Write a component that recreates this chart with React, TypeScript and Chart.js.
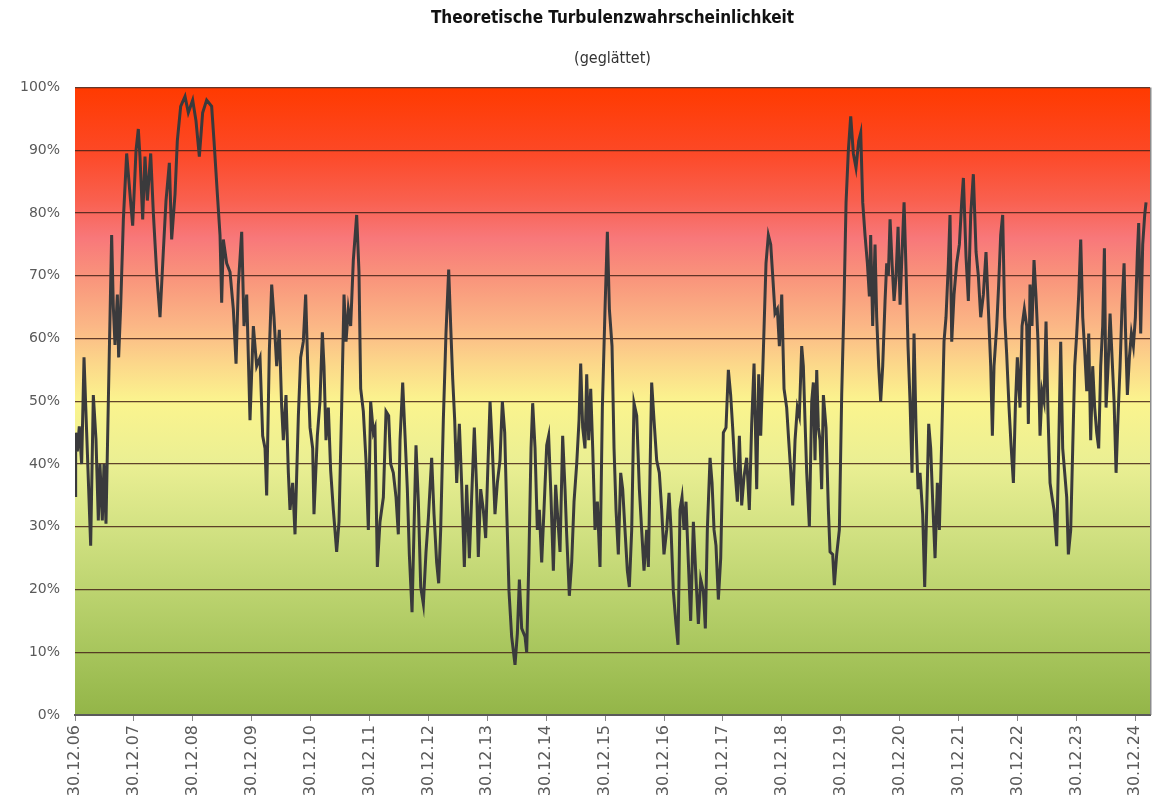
import React, { useEffect, useRef } from "react";
import { Chart, registerables } from "chart.js";

Chart.register(...registerables);

// Years since 30.12.2006 (x) and smoothed turbulence probability in % (y)
const yearsSinceStart: number[] = [
  0.000, 0.011, 0.040, 0.073, 0.113, 0.153, 0.198, 0.232, 0.266, 0.311, 0.356, 0.396, 0.424, 0.464, 0.492, 0.526,
  0.566, 0.622, 0.651, 0.679, 0.719, 0.741, 0.775, 0.821, 0.877, 0.934, 0.979, 1.036, 1.075, 1.103, 1.149, 1.188,
  1.228, 1.285, 1.330, 1.386, 1.443, 1.500, 1.545, 1.602, 1.641, 1.698, 1.737, 1.794, 1.868, 1.924, 1.998, 2.054,
  2.111, 2.167, 2.235, 2.320, 2.360, 2.417, 2.462, 2.490, 2.518, 2.575, 2.632, 2.688, 2.734, 2.773, 2.830, 2.869,
  2.915, 2.971, 3.028, 3.084,
  3.141, 3.186, 3.226, 3.254, 3.299, 3.339, 3.378, 3.424, 3.469, 3.509, 3.537, 3.582, 3.622, 3.650, 3.695, 3.735,
  3.792, 3.831, 3.876, 3.916, 3.950, 3.990, 4.035, 4.057, 4.114, 4.159, 4.199, 4.227, 4.261, 4.301, 4.340, 4.386,
  4.442, 4.482, 4.527, 4.567, 4.601, 4.640, 4.680, 4.725, 4.782, 4.821, 4.850, 4.895, 4.940, 4.980, 5.019, 5.065,
  5.093, 5.133, 5.178, 5.235, 5.280, 5.325, 5.359, 5.404, 5.450, 5.489, 5.518, 5.563, 5.603, 5.642, 5.676, 5.722,
  5.755, 5.789, 5.829, 5.869, 5.914, 5.959, 5.999, 6.055,
  6.095, 6.140, 6.174, 6.208, 6.253, 6.298, 6.344, 6.378, 6.412, 6.446, 6.480, 6.525, 6.565, 6.610, 6.649, 6.695,
  6.734, 6.779, 6.819, 6.847, 6.887, 6.932, 6.972, 7.006, 7.046, 7.085, 7.130, 7.170, 7.215, 7.255, 7.295, 7.329,
  7.368, 7.413, 7.470, 7.510, 7.544, 7.583, 7.640, 7.668, 7.708, 7.742, 7.770, 7.810, 7.849, 7.883, 7.923, 7.962,
  8.008, 8.041, 8.081, 8.121, 8.160, 8.200, 8.234, 8.279, 8.319, 8.347, 8.392, 8.432, 8.472, 8.517, 8.557, 8.585,
  8.619, 8.658, 8.687, 8.721, 8.755, 8.789, 8.828, 8.868, 8.913, 8.953, 8.998, 9.038, 9.072,
  9.117, 9.151, 9.185, 9.224, 9.264, 9.298, 9.337, 9.377, 9.411, 9.451, 9.490, 9.536, 9.581, 9.620, 9.660, 9.705,
  9.734, 9.762, 9.790, 9.830, 9.875, 9.920, 9.960, 9.999, 10.045, 10.085, 10.119, 10.158, 10.203, 10.237, 10.271, 10.305,
  10.339, 10.373, 10.413, 10.452, 10.498, 10.543, 10.583, 10.622, 10.668, 10.701, 10.735, 10.781, 10.815, 10.849, 10.882, 10.922,
  10.962, 11.007, 11.052, 11.092, 11.131, 11.165, 11.205, 11.245, 11.279, 11.318, 11.358, 11.403, 11.448, 11.488, 11.528, 11.573,
  11.607, 11.641, 11.686, 11.731, 11.771, 11.811, 11.845, 11.884, 11.924, 11.958, 11.998, 12.037, 12.082, 12.116,
  12.150, 12.184, 12.224, 12.263, 12.297, 12.337, 12.365, 12.393, 12.422, 12.467, 12.507, 12.535, 12.563, 12.592, 12.620, 12.648,
  12.676, 12.705, 12.750, 12.790, 12.818, 12.863, 12.891, 12.931, 12.976, 13.016, 13.056, 13.090, 13.129, 13.169, 13.214, 13.259,
  13.305, 13.339, 13.373, 13.412, 13.452, 13.486, 13.508, 13.542, 13.582, 13.610, 13.644, 13.678, 13.712, 13.752, 13.780, 13.808,
  13.837, 13.871, 13.905, 13.939, 13.973, 14.007, 14.041, 14.075, 14.108, 14.142, 14.176, 14.210, 14.244, 14.278, 14.312, 14.346,
  14.391, 14.425, 14.459, 14.493, 14.527, 14.561, 14.601, 14.640, 14.674, 14.714, 14.753, 14.787, 14.827, 14.855, 14.884, 14.923,
  14.968, 15.014, 15.053, 15.082, 15.127, 15.166, 15.206, 15.251,
  15.297, 15.336, 15.376, 15.421, 15.466, 15.506, 15.546, 15.574, 15.602, 15.648, 15.681, 15.715, 15.749, 15.783, 15.817, 15.857,
  15.891, 15.931, 15.964, 15.998, 16.044, 16.078, 16.117, 16.157, 16.185, 16.213, 16.247, 16.281, 16.315, 16.349, 16.383, 16.417,
  16.451, 16.485, 16.519, 16.553, 16.587, 16.621, 16.666, 16.700, 16.734, 16.768, 16.802, 16.836, 16.864, 16.904, 16.938, 16.972,
  17.006, 17.040, 17.074, 17.108, 17.142, 17.176, 17.210, 17.243, 17.277, 17.311, 17.345, 17.379, 17.413, 17.447, 17.476, 17.504,
  17.538, 17.572, 17.606, 17.640, 17.674, 17.708, 17.742, 17.776, 17.810, 17.832, 17.866, 17.900, 17.934, 17.968, 18.002, 18.036,
  18.058, 18.092, 18.126, 18.160, 18.183,
];

const turbulence: number[] = [
  35, 45, 42, 46, 40, 57, 45, 36, 27, 51, 44, 31, 40, 31, 40, 30.5,
  50, 76.5, 65, 59, 67, 57, 65, 79, 89.5, 83, 78, 90, 93.4, 89, 79, 89,
  82, 89.5, 80, 70.6, 63.4, 74, 82, 88, 75.8, 83, 91.5, 97, 98.6, 96, 98, 94.7,
  89, 96, 98, 97, 91.5, 83, 76.5, 65.7, 75.8, 72, 70.6, 64.7, 56, 68.6, 77, 62,
  67, 47, 62, 55.6,
  57, 44.5, 42.5, 35, 58, 68.6, 63.4, 55.6, 61.4, 49, 43.8, 51, 38.6, 32.7, 37, 28.8,
  47.7, 57, 59.5, 67, 56, 45.8, 42.5, 32, 44.5, 50, 61, 55.6, 43.8, 49, 39, 32.7,
  26, 30.8, 49, 67, 59.5, 64.7, 62, 72.5, 79.7, 70.6, 52, 48.4, 40.6, 29.5, 50, 45,
  45.8, 23.6, 30.8, 34.7, 48.4, 47.7, 40, 38.6, 34.7, 28.8, 43.8, 53, 44.5, 36, 25.6, 16.4,
  29.5, 43, 34, 20.4, 17.7, 26, 31.4, 41,
  32, 24.3, 21, 29.5, 47, 60.8, 71, 62, 53.6, 47, 37, 46.4, 36.7, 23.6, 36.7, 25,
  34.7, 45.8, 36, 25.2, 36, 32.7, 28.2, 38.6, 50, 42.5, 32, 37, 40.6, 50, 45, 32.7,
  19.7, 12.5, 8, 13, 21.6, 13.8, 12.5, 10, 26, 42.5, 49.7, 42.5, 29.5, 32.7, 24.3, 32.7,
  43, 44.5, 34.7, 23, 36.7, 30.8, 26, 44.5, 36, 28.8, 19, 24.3, 34, 40, 47, 56,
  45.8, 42.5, 54.3, 43.8, 52, 42.5, 29.5, 34, 23.6, 49, 64.7, 77, 64.7,
  58.8, 42.5, 32.7, 25.6, 38.6, 36, 29.5, 23, 20.4, 29.5, 49.7, 47.7, 36, 29.5, 23, 29.5,
  23.6, 38.6, 53, 47, 40.6, 38.6, 32.7, 25.6, 29.5, 35.4, 29.5, 19.7, 14.5, 11.2, 32.7, 34.7,
  29.5, 34, 24.3, 15, 30.8, 21.6, 14.5, 21.6, 19.7, 13.8, 29.5, 41, 37, 29.5, 27, 18.4,
  25, 45, 45.8, 55, 51, 45.8, 39, 34, 44.5, 33.4, 38, 41, 32.7, 46.4, 56, 36,
  54.3, 44.5, 58, 72, 76.5, 75, 70, 64, 64.7, 58.8, 67, 52, 49, 43.8,
  39, 33.4, 43.8, 49, 47.7, 58.8, 55.6, 47, 38.6, 30, 50, 53, 40.6, 55, 45.8, 43.8,
  36, 51, 45.8, 32.7, 26, 25.6, 20.7, 25.6, 29.5, 51, 66, 81.7, 90, 95.4, 89.5, 87.2,
  91.5, 92.8, 81.7, 76.5, 72, 66.7, 76.5, 62, 75, 63.4, 55.6, 50, 55.6, 66, 72, 70,
  79, 72, 66, 70, 77.8, 65.4, 73.8, 81.7, 71, 58.8, 50, 38.6, 60.8, 45.8, 36, 38.6,
  32, 20.4, 32.7, 46.4, 42.5, 34, 25, 37, 29.5, 43.8, 59.5, 63.4, 72, 79.7, 59.5, 67,
  72, 75, 81.7, 85.6, 73, 66, 79.7, 86.2,
  73.8, 70, 63.4, 67, 73.8, 64.7, 55.6, 44.5, 55.6, 62, 68.6, 76.5, 79.7, 63.4, 57.5, 49,
  43, 37, 49, 57, 49, 62, 64.7, 62, 46.4, 68.6, 62, 72.5, 66.7, 59.5, 44.5, 51.6,
  50, 62.7, 47.7, 37, 34.7, 32.7, 26.9, 42.5, 59.5, 42.5, 38.6, 34.7, 25.6, 29.5, 42.5, 55.6,
  60.8, 67, 75.8, 63.4, 58, 51.6, 60.8, 43.8, 55.6, 49, 45, 42.5, 55.6, 62, 74.4, 49,
  55.6, 64, 57, 50, 38.6, 47.7, 55.6, 65.4, 72, 62, 51, 57, 60.8, 58.8, 63.4, 73.8,
  78.4, 60.8, 75, 79.7, 81.7,
];

const tickLabels: string[] = [
  "30.12.06", "30.12.07", "30.12.08", "30.12.09", "30.12.10", "30.12.11", "30.12.12",
  "30.12.13", "30.12.14", "30.12.15", "30.12.16", "30.12.17", "30.12.18", "30.12.19",
  "30.12.20", "30.12.21", "30.12.22", "30.12.23", "30.12.24",
];

const titleText = "Theoretische Turbulenzwahrscheinlichkeit";
const subtitleText = "(geglättet)";

const bgPlugin = {
  id: "bgGradient",
  beforeDraw(chart: any) {
    const { ctx, chartArea } = chart;
    if (!chartArea) return;
    const y = chart.scales.y;
    const y0 = y.getPixelForValue(0);
    const y100 = y.getPixelForValue(100);
    const g = ctx.createLinearGradient(0, y0, 0, y100);
    g.addColorStop(0.0, "#93b548");
    g.addColorStop(0.1, "#a7c55c");
    g.addColorStop(0.2, "#bdd470");
    g.addColorStop(0.3, "#d3e283");
    g.addColorStop(0.4, "#eaef93");
    g.addColorStop(0.5, "#fbf48e");
    g.addColorStop(0.56, "#fcd78a");
    g.addColorStop(0.62, "#fbb786");
    g.addColorStop(0.7, "#f9937b");
    g.addColorStop(0.76, "#f8787a");
    g.addColorStop(0.82, "#f9604f");
    g.addColorStop(0.9, "#fd4825");
    g.addColorStop(1.0, "#ff3a00");
    ctx.save();
    ctx.fillStyle = g;
    ctx.fillRect(chartArea.left, chartArea.top, chartArea.right - chartArea.left, chartArea.bottom - chartArea.top);
    ctx.restore();
  },
  afterDraw(chart: any) {
    const { ctx, chartArea } = chart;
    ctx.save();
    ctx.strokeStyle = "rgba(110,110,110,0.8)";
    ctx.lineWidth = 1.5;
    ctx.beginPath();
    ctx.moveTo(chartArea.right + 0.75, chartArea.top);
    ctx.lineTo(chartArea.right + 0.75, chartArea.bottom);
    ctx.stroke();
    ctx.restore();
  },
};

export default function App() {
  const canvasRef = useRef<HTMLCanvasElement | null>(null);

  useEffect(() => {
    if (!canvasRef.current) return;
    const points = yearsSinceStart.map((t, i) => ({ x: t, y: turbulence[i] }));
    const chart = new Chart(canvasRef.current, {
      type: "line",
      data: {
        datasets: [
          {
            data: points,
            borderColor: "#3a3a3c",
            borderWidth: 3,
            pointRadius: 0,
            tension: 0,
            fill: false,
          },
        ],
      },
      options: {
        responsive: false,
        animation: false,
        layout: { padding: { left: 0, right: 10, top: 0, bottom: 0 } },
        plugins: {
          legend: { display: false },
          tooltip: { enabled: false },
          title: {
            display: true,
            text: titleText,
            fullSize: false,
            color: "#111",
            font: { family: "'DejaVu Sans Condensed', 'DejaVu Sans', sans-serif", size: 17, weight: "bold" },
            padding: { top: 8, bottom: 21 },
          },
          subtitle: {
            display: true,
            text: subtitleText,
            fullSize: false,
            color: "#333",
            font: { family: "'DejaVu Sans Condensed', 'DejaVu Sans', sans-serif", size: 16, weight: "normal" },
            padding: { top: 0, bottom: 19 },
          },
        },
        scales: {
          x: {
            type: "linear",
            min: 0,
            max: 18.25,
            afterBuildTicks: (scale: any) => {
              scale.ticks = tickLabels.map((_, i) => ({ value: i }));
            },
            afterFit: (scale: any) => {
              scale.height = 94;
            },
            ticks: {
              autoSkip: false,
              minRotation: 90,
              maxRotation: 90,
              padding: 4,
              color: "#5a5a5a",
              font: { family: "'DejaVu Sans', sans-serif", size: 16 },
              callback: (v: any) => tickLabels[Math.round(Number(v))] ?? "",
            },
            grid: {
              drawOnChartArea: false,
              drawTicks: true,
              tickLength: 6,
              color: "#888",
            },
            border: { display: true, color: "#5a5a5a", width: 2 },
          },
          y: {
            min: 0,
            max: 100,
            afterFit: (scale: any) => {
              scale.width = 75;
            },
            ticks: {
              stepSize: 10,
              padding: 15,
              color: "#5a5a5a",
              font: { family: "'DejaVu Sans', sans-serif", size: 14 },
              callback: (v: any) => `${v}%`,
            },
            grid: {
              drawTicks: false,
              color: (c: any) => (c.tick && c.tick.value === 0 ? "rgba(0,0,0,0)" : "rgba(70,35,25,0.85)"),
              lineWidth: 1.3,
            },
            border: { display: false },
          },
        },
      },
      plugins: [bgPlugin],
    });
    return () => chart.destroy();
  }, []);

  return (
    <div style={{ position: "absolute", left: 0, top: 0, width: 1160, height: 809, background: "#fff" }}>
      <canvas ref={canvasRef} width={1160} height={809} style={{ display: "block" }} />
    </div>
  );
}
